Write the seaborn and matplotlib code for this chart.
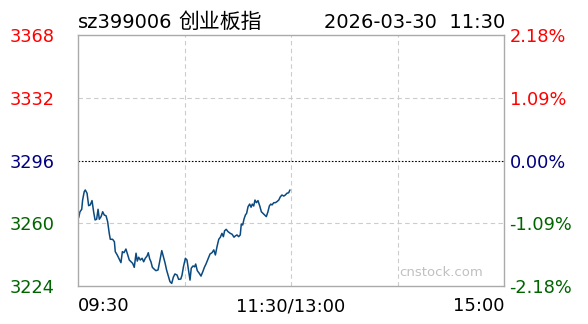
import numpy as np
import pandas as pd
import seaborn as sns
import matplotlib
matplotlib.use("Agg")
import matplotlib.pyplot as plt

# ---- data (minutes after 09:30, index level) ----
minutes = [0.4, 1.1, 2.1, 2.6, 3.5, 4.1, 5.1, 6.0, 6.9, 7.9, 8.8, 9.6, 10.5, 11.3, 12.0,
           13.0, 13.9, 14.8, 15.8, 16.7, 17.6, 18.2, 19.5, 20.5, 21.0, 22.1, 23.3, 24.2,
           25.0, 25.9, 27.0, 28.0, 28.9, 29.9, 30.8, 31.7, 32.7, 33.4, 34.2, 35.1, 36.1,
           37.0, 37.9, 38.9, 39.6, 40.4, 41.1, 41.9, 43.0, 43.9, 45.1, 46.2, 47.2, 48.1,
           49.0, 49.9, 50.9, 51.8, 52.8, 53.7, 54.6, 55.8, 56.7, 57.9, 58.6, 59.4, 60.5,
           61.4, 62.4, 63.1, 63.8, 64.8, 65.7, 66.3, 67.2, 68.3, 69.3, 70.3, 71.2, 72.1,
           73.2, 74.4, 75.5, 76.5, 77.4, 78.3, 79.3, 80.2, 81.1, 81.9, 82.6, 83.5, 84.5,
           85.8, 86.8, 87.9, 88.6, 89.6, 90.5, 91.4, 92.0, 92.8, 93.5, 94.3, 95.0, 95.8,
           96.7, 97.5, 98.2, 99.0, 99.7, 100.5, 101.4, 102.4, 103.3, 104.2, 105.2, 106.1,
           107.0, 107.8, 108.6, 109.3, 110.3, 111.2, 112.1, 113.1, 114.0, 114.9, 115.9,
           116.8, 117.7, 118.7, 119.4]
prices = [3263.2, 3266.6, 3268.0, 3273.3, 3278.1, 3279.1, 3277.2, 3270.1, 3270.5, 3273.0,
          3266.6, 3261.9, 3262.3, 3268.0, 3262.3, 3263.8, 3266.6, 3264.7, 3264.3, 3260.9,
          3254.2, 3250.8, 3250.8, 3249.4, 3243.7, 3241.8, 3239.3, 3237.4, 3243.7, 3243.1,
          3245.2, 3241.8, 3238.9, 3237.9, 3237.0, 3234.7, 3242.8, 3238.3, 3240.5, 3238.9,
          3239.9, 3237.9, 3239.9, 3241.2, 3243.1, 3239.5, 3237.9, 3234.7, 3233.6, 3232.8,
          3233.2, 3238.9, 3244.3, 3240.8, 3237.4, 3233.2, 3229.7, 3226.5, 3225.5, 3229.0,
          3230.9, 3230.3, 3227.8, 3228.0, 3230.2, 3235.0, 3239.9, 3238.9, 3232.2, 3227.4,
          3234.2, 3235.5, 3235.0, 3236.6, 3232.8, 3231.3, 3229.7, 3232.2, 3234.7, 3236.6,
          3239.3, 3242.4, 3243.1, 3244.7, 3241.8, 3246.5, 3250.8, 3252.0, 3254.2, 3252.3,
          3255.7, 3256.5, 3255.2, 3254.2, 3253.7, 3252.0, 3252.7, 3253.3, 3252.3, 3253.3,
          3259.6, 3259.0, 3262.3, 3264.7, 3265.7, 3269.5, 3271.0, 3269.2, 3271.0, 3269.9,
          3273.3, 3271.8, 3273.0, 3269.9, 3266.6, 3265.7, 3264.7, 3263.8, 3266.6, 3269.9,
          3271.0, 3270.5, 3271.8, 3271.8, 3272.4, 3273.3, 3275.2, 3276.2, 3275.6, 3276.2,
          3277.2, 3277.5, 3279.1]

price_ticks = [3224, 3260, 3296, 3332, 3368]
price_labels = ["3224", "3260", "3296", "3332", "3368"]
pct_ticks = [-2.18, -1.09, 0.0, 1.09, 2.18]
pct_labels = ["-2.18%", "-1.09%", "0.00%", "1.09%", "2.18%"]
time_ticks = [0, 120, 240]
time_labels = ["09:30", "11:30/13:00", "15:00"]
title_code = "sz399006"
title_name = "创业板指"
title_right = "2026-03-30  11:30"
watermark = "cnstock.com"

RED = "#ff0000"
NAVY = "#000080"
GREEN = "#006400"
label_colors = [GREEN, GREEN, NAVY, RED, RED]

sns.set_theme(style="white")
plt.rcParams["font.family"] = ["DejaVu Sans", "Noto Sans CJK SC"]

W, H = 588, 324
fig = plt.figure(figsize=(W / 100, H / 100), dpi=100)
L, R, T, B = 78, 504, 35, 286
ax = fig.add_axes([L / W, (H - B) / H, (R - L) / W, (B - T) / H])

df = pd.DataFrame({"minute": minutes, "price": prices})
sns.lineplot(data=df, x="minute", y="price", ax=ax, color="#0b4a80", linewidth=1.1)

ax.set_xlim(0, 240)
ax.set_ylim(3224, 3368)
ax.set_xlabel("")
ax.set_ylabel("")

# grid
for xv in [60, 120, 180]:
    ax.axvline(xv, color="#cccccc", lw=0.8, ls=(0, (4, 3)), zorder=0)
for yv in [3260, 3332]:
    ax.axhline(yv, color="#cccccc", lw=0.8, ls=(0, (4, 3)), zorder=0)
ax.axhline(3296, color="black", lw=0.8, ls=(0, (1.5, 1.5)), zorder=0)

for s in ax.spines.values():
    s.set_color("#aaaaaa")
    s.set_linewidth(1.0)

ax.set_yticks(price_ticks)
ax.set_yticklabels(price_labels, fontsize=12.8)
for lab, c in zip(ax.get_yticklabels(), label_colors):
    lab.set_color(c)
ax.tick_params(axis="y", length=0, pad=17)

ax.set_xticks(time_ticks)
ax.set_xticklabels(time_labels, fontsize=13, color="black")
ax.tick_params(axis="x", length=0, pad=8)
xl = ax.get_xticklabels()
xl[0].set_ha("left")
xl[1].set_ha("center")
xl[2].set_ha("right")

ax2 = ax.twinx()
ax2.set_ylim(-2.18, 2.18)
ax2.set_yticks(pct_ticks)
ax2.set_yticklabels(pct_labels, fontsize=12.8)
for lab, c in zip(ax2.get_yticklabels(), label_colors):
    lab.set_color(c)
ax2.tick_params(axis="y", length=0, pad=4)
for s in ax2.spines.values():
    s.set_visible(False)
ax2.grid(False)

ax.text(0.95, 0.055, watermark, transform=ax.transAxes, ha="right", va="center",
        fontsize=9.5, color="#c0c0c0")

fig.text(L / W, 1 - 22 / H, title_code, ha="left", va="center", fontsize=14,
         color="black")
fig.text(178 / W, 1 - 22 / H, title_name, ha="left", va="center", fontsize=15,
         color="black", family=["Noto Sans CJK SC", "DejaVu Sans"])
fig.text(505 / W, 1 - 22 / H, title_right, ha="right", va="center", fontsize=14,
         color="black")

fig.savefig("out.png", dpi=100)
